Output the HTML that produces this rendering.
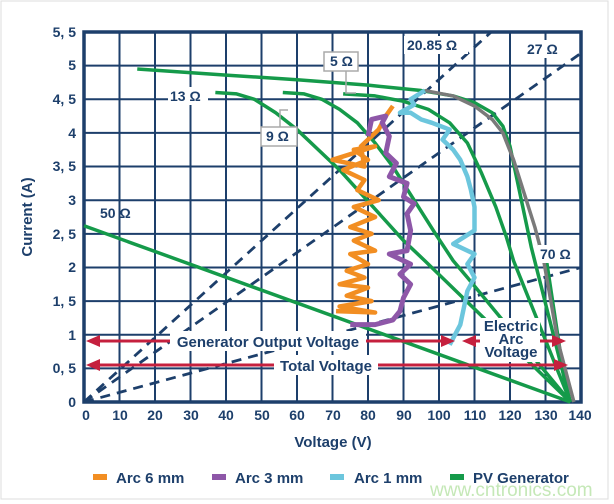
<!DOCTYPE html>
<html><head><meta charset="utf-8"><style>
body{margin:0;background:#fff;}
svg{display:block;font-family:"Liberation Sans",sans-serif;font-weight:bold;}
</style></head><body>
<svg width="614" height="504" viewBox="0 0 614 504" xmlns="http://www.w3.org/2000/svg">
<rect x="0" y="0" width="614" height="504" fill="#fff"/>
<rect x="1" y="1" width="607" height="498" fill="none" stroke="#ddd" stroke-width="1"/>
<g transform="translate(84,402) scale(3.55,-67.27)" fill="none">
  <path vector-effect="non-scaling-stroke" stroke="#1d3f6b" stroke-width="2" d="M10 0V5.5M20 0V5.5M30 0V5.5M40 0V5.5M50 0V5.5M60 0V5.5M70 0V5.5M80 0V5.5M90 0V5.5M100 0V5.5M110 0V5.5M120 0V5.5M130 0V5.5M0 0.5H140M0 1H140M0 1.5H140M0 2H140M0 2.5H140M0 3H140M0 3.5H140M0 4H140M0 4.5H140M0 5H140"/>
 <rect x="0" y="0" width="140" height="5.5" stroke="#1d3f6b" stroke-width="3.5" vector-effect="non-scaling-stroke"/>
  <path vector-effect="non-scaling-stroke" stroke="#1d3f6b" stroke-width="2.8" stroke-dasharray="10,7" d="M0 0L114.7 5.5"/>
  <path vector-effect="non-scaling-stroke" stroke="#1d3f6b" stroke-width="2.8" stroke-dasharray="10,7" d="M0 0L140 5.185"/>
  <path vector-effect="non-scaling-stroke" stroke="#1d3f6b" stroke-width="2.8" stroke-dasharray="10,7" d="M0 0L140 2"/>
 <g stroke="#159a4a" stroke-width="3.5" stroke-linejoin="round">
  <path vector-effect="non-scaling-stroke" d="M15 4.95L40 4.86L60 4.79L80 4.71L95 4.63L104 4.55L110 4.45L115 4.3L118 4.1L120 3.8L122 3.3L124 2.8L126 2.3L137 0"/>
  <path vector-effect="non-scaling-stroke" d="M73 4.58L82 4.55L90 4.47L97 4.35L103 4.15L108 3.85L112 3.4L116 2.9L119 2.45L121 2.1L137 0"/>
  <path vector-effect="non-scaling-stroke" d="M56 4.6L62 4.58L67 4.5L72 4.35L77 4.15L82 3.85L87 3.5L93 3.0L99 2.5L104 2.1L108 1.85L137 0"/>
  <path vector-effect="non-scaling-stroke" d="M37 4.6L43 4.58L48 4.5L54 4.3L60 4.05L66 3.75L72 3.45L78 3.1L84 2.75L90 2.4L96 2.1L137 0"/>
  <path vector-effect="non-scaling-stroke" d="M0 2.62L137 0"/>
  <path vector-effect="non-scaling-stroke" d="M130 2.2L136 0.1"/>
 </g>
 <path vector-effect="non-scaling-stroke" stroke="#7a7a7a" stroke-width="3.5" stroke-linejoin="round" d="M96 4.63L104 4.55L110 4.4L115 4.2L118 4.0L121 3.6L124 3.1L127 2.6L129.5 2.1L131.5 1.5L133.5 0.9L138 0"/>
 <path vector-effect="non-scaling-stroke" stroke="#f28e22" stroke-width="4.5" stroke-linejoin="round" d="M71 1.35L82 1.33L72 1.42L81 1.5L74 1.58L80 1.7L72 1.75L79 1.85L74 1.95L80 2.05L75 2.2L82 2.25L76 2.4L81 2.5L75 2.6L82 2.75L76 2.9L83 3.0L77 3.15L79 3.3L73 3.45L80 3.6L76 3.75L82 3.8L70 3.6L79 3.5L78 3.8L83 4.05L85 4.25L87 4.4"/>
 <path vector-effect="non-scaling-stroke" stroke="#8e57a8" stroke-width="5" stroke-linejoin="round" d="M75 1.15L82 1.15L87 1.22L89 1.35L90 1.55L92 1.75L89 1.9L92 2.05L86 2.2L91 2.25L92 2.55L91 2.8L93 2.95L90 3.05L91 3.25L86 3.35L88 3.55L85 3.7L86 3.95L84 4.15L85 4.25L81 4.2L80 3.95"/>
 <path vector-effect="non-scaling-stroke" stroke="#6cc6dd" stroke-width="4.5" stroke-linejoin="round" d="M103 0.85L106 1.15L107 1.4L108 1.65L110 1.85L108 2.05L110 2.2L104 2.35L110 2.55L110 2.9L109 3.15L108 3.35L106 3.6L104 3.75L101 3.9L103 4.05L98 4.15L95 4.2L92 4.3L89 4.3L93 4.42L92 4.5L96 4.63"/>
</g>
<g stroke="#c5203e" stroke-width="3">
 <line x1="96" y1="341" x2="448" y2="341"/>
 <line x1="475" y1="341" x2="562" y2="341"/>
 <line x1="96" y1="365" x2="560" y2="365"/>
</g>
<g fill="#c5203e">
 <polygon points="86,341 100,335 100,347"/>
 <polygon points="455,341 441,335 441,347"/>
 <polygon points="462,341 476,335 476,347"/>
 <polygon points="566,341 552,335 552,347"/>
 <polygon points="86,365 100,359 100,371"/>
 <polygon points="568,365 554,359 554,371"/>
</g>
<g fill="#1d3f6b" font-size="15">
 <rect x="170" y="331" width="196" height="20" fill="#fff"/>
 <text x="268" y="347" text-anchor="middle">Generator Output Voltage</text>
 <rect x="274" y="355" width="104" height="20" fill="#fff"/>
 <text x="326" y="371" text-anchor="middle">Total Voltage</text>
 <rect x="480" y="318" width="60" height="44" fill="#fff"/>
 <text x="511" y="331" text-anchor="middle">Electric</text>
 <text x="511" y="344" text-anchor="middle">Arc</text>
 <text x="511" y="357" text-anchor="middle">Voltage</text>
</g>
<g fill="#1d3f6b" font-size="14">
 <rect x="168" y="87" width="40" height="18" fill="#fff"/>
 <text x="170" y="101">13 Ω</text>
 <text x="100" y="218">50 Ω</text>
 <rect x="404" y="36" width="64" height="18" fill="#fff"/>
 <text x="407" y="50">20.85 Ω</text>
 <rect x="524" y="40" width="42" height="18" fill="#fff"/>
 <text x="527" y="54">27 Ω</text>
 <rect x="538" y="245" width="40" height="18" fill="#fff"/>
 <text x="540" y="259">70 Ω</text>
 <path d="M346 70V93H356M280 127V110H288" stroke="#aaa" stroke-width="1.5" fill="none"/>
 <rect x="324" y="52" width="34" height="19" fill="#fff" stroke="#aaa" stroke-width="1.5"/>
 <text x="330" y="66">5 Ω</text>
 <rect x="261" y="127" width="36" height="19" fill="#fff" stroke="#aaa" stroke-width="1.5"/>
 <text x="266" y="141">9 Ω</text>
</g>
<g fill="#1d3f6b" font-size="14" text-anchor="end">
 <text x="76" y="37">5, 5</text>
 <text x="76" y="70">5</text>
 <text x="76" y="104">4, 5</text>
 <text x="76" y="138">4</text>
 <text x="76" y="171">3, 5</text>
 <text x="76" y="205">3</text>
 <text x="76" y="239">2, 5</text>
 <text x="76" y="272">2</text>
 <text x="76" y="306">1, 5</text>
 <text x="76" y="340">1</text>
 <text x="76" y="373">0, 5</text>
 <text x="76" y="407">0</text>
</g>
<g fill="#1d3f6b" font-size="14" text-anchor="middle">
 <text x="86" y="420">0</text>
 <text x="120" y="420">10</text>
 <text x="155" y="420">20</text>
 <text x="191" y="420">30</text>
 <text x="226" y="420">40</text>
 <text x="262" y="420">50</text>
 <text x="297" y="420">60</text>
 <text x="333" y="420">70</text>
 <text x="368" y="420">80</text>
 <text x="404" y="420">90</text>
 <text x="439" y="420">100</text>
 <text x="475" y="420">110</text>
 <text x="510" y="420">120</text>
 <text x="546" y="420">130</text>
 <text x="580" y="420">140</text>
 <text x="333" y="447" font-size="15">Voltage (V)</text>
 <text transform="translate(32,217) rotate(-90)" font-size="15">Current (A)</text>
</g>
<g font-size="15" fill="#1d3f6b">
 <rect x="93" y="474" width="14" height="6" fill="#f28e22"/>
 <text x="116" y="483">Arc 6 mm</text>
 <rect x="212" y="474" width="14" height="6" fill="#8e57a8"/>
 <text x="235" y="483">Arc 3 mm</text>
 <rect x="330" y="474" width="14" height="6" fill="#6cc6dd"/>
 <text x="354" y="483">Arc 1 mm</text>
 <rect x="450" y="474" width="14" height="6" fill="#159a4a"/>
 <text x="473" y="483">PV Generator</text>
</g>
<text x="430" y="496" font-size="19" font-weight="normal" fill="#bfe6b0" opacity="0.9">www.cntronics.com</text>
</svg>
</body></html>
